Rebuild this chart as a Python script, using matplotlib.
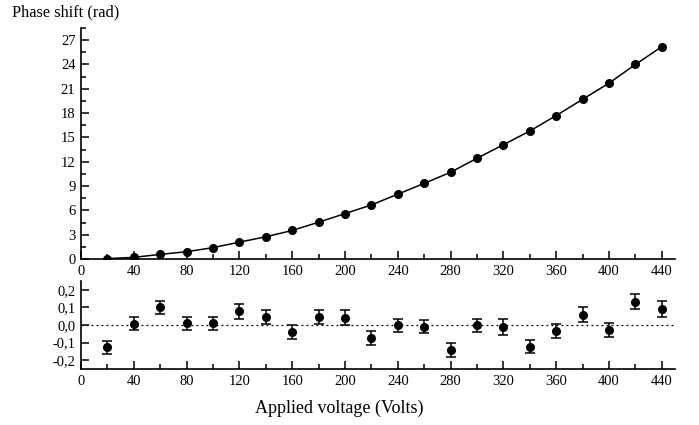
import numpy as np
import matplotlib
matplotlib.use("Agg")
import matplotlib.pyplot as plt
from matplotlib.ticker import MultipleLocator

plt.rcParams['font.family'] = ['Liberation Serif', 'DejaVu Serif']

# dati
voltage = [20, 40, 60, 80, 100, 120, 140, 160, 180, 200, 220,
           240, 260, 280, 300, 320, 340, 360, 380, 400, 420, 440]
phase = [0.05, 0.2, 0.57, 0.9, 1.4, 2.08, 2.74, 3.52, 4.54, 5.6, 6.67,
         8.0, 9.33, 10.7, 12.43, 14.1, 15.79, 17.7, 19.7, 21.7, 24.0, 26.2]
residual = [-0.127, 0.006, 0.10, 0.01, 0.01, 0.078, 0.046, -0.04, 0.046, 0.042, -0.074,
            -0.002, -0.01, -0.14, -0.002, -0.01, -0.124, -0.034, 0.059, -0.029, 0.133, 0.09]
res_err = [0.036, 0.037, 0.036, 0.037, 0.037, 0.042, 0.041, 0.04, 0.04, 0.042, 0.037,
           0.037, 0.037, 0.04, 0.037, 0.045, 0.037, 0.04, 0.043, 0.042, 0.045, 0.047]
res_ticks = [-0.2, -0.1, 0.0, 0.1, 0.2]
res_labels = ['-0,2', '-0,1', '0,0', '0,1', '0,2']

fig = plt.figure(figsize=(6.99, 4.25), dpi=100)
ax1 = fig.add_axes([0.1159, 0.3906, 0.8498, 0.5435])
ax2 = fig.add_axes([0.1159, 0.1318, 0.8498, 0.2071])

def style(ax):
    for s in ['top', 'right']:
        ax.spines[s].set_visible(False)
    for s in ['left', 'bottom']:
        ax.spines[s].set_linewidth(1.2)
    ax.tick_params(which='both', direction='in', width=1.1, labelsize=10.5, pad=4)
    ax.tick_params(which='major', length=6)
    ax.tick_params(which='minor', length=3.5)
    ax.set_xlim(0, 450)
    ax.xaxis.set_major_locator(MultipleLocator(40))
    ax.xaxis.set_minor_locator(MultipleLocator(20))

# grafico superiore
ax1.plot(voltage, phase, color='black', lw=1.1, marker='o', ms=5.5)
style(ax1)
ax1.set_ylim(0, 28.5)
ax1.yaxis.set_major_locator(MultipleLocator(3))
ax1.yaxis.set_minor_locator(MultipleLocator(1.5))

# residui
ax2.axhline(0, color='black', lw=0.9, ls=(0, (1.5, 2.5)))
ax2.errorbar(voltage, residual, yerr=res_err, fmt='o', color='black', ms=5.5,
             elinewidth=1.1, capsize=3.5, capthick=1.1)
style(ax2)
ax2.set_ylim(-0.25, 0.25)
ax2.set_yticks(res_ticks)
ax2.set_yticklabels(res_labels)

fig.text(339 / 699, 1 - 408 / 425, 'Applied voltage (Volts)', fontsize=13,
         ha='center', va='center')
fig.text(0.017, 0.99, 'Phase shift (rad)', fontsize=11.8, va='top', ha='left')

fig.savefig('out.png', dpi=100)
